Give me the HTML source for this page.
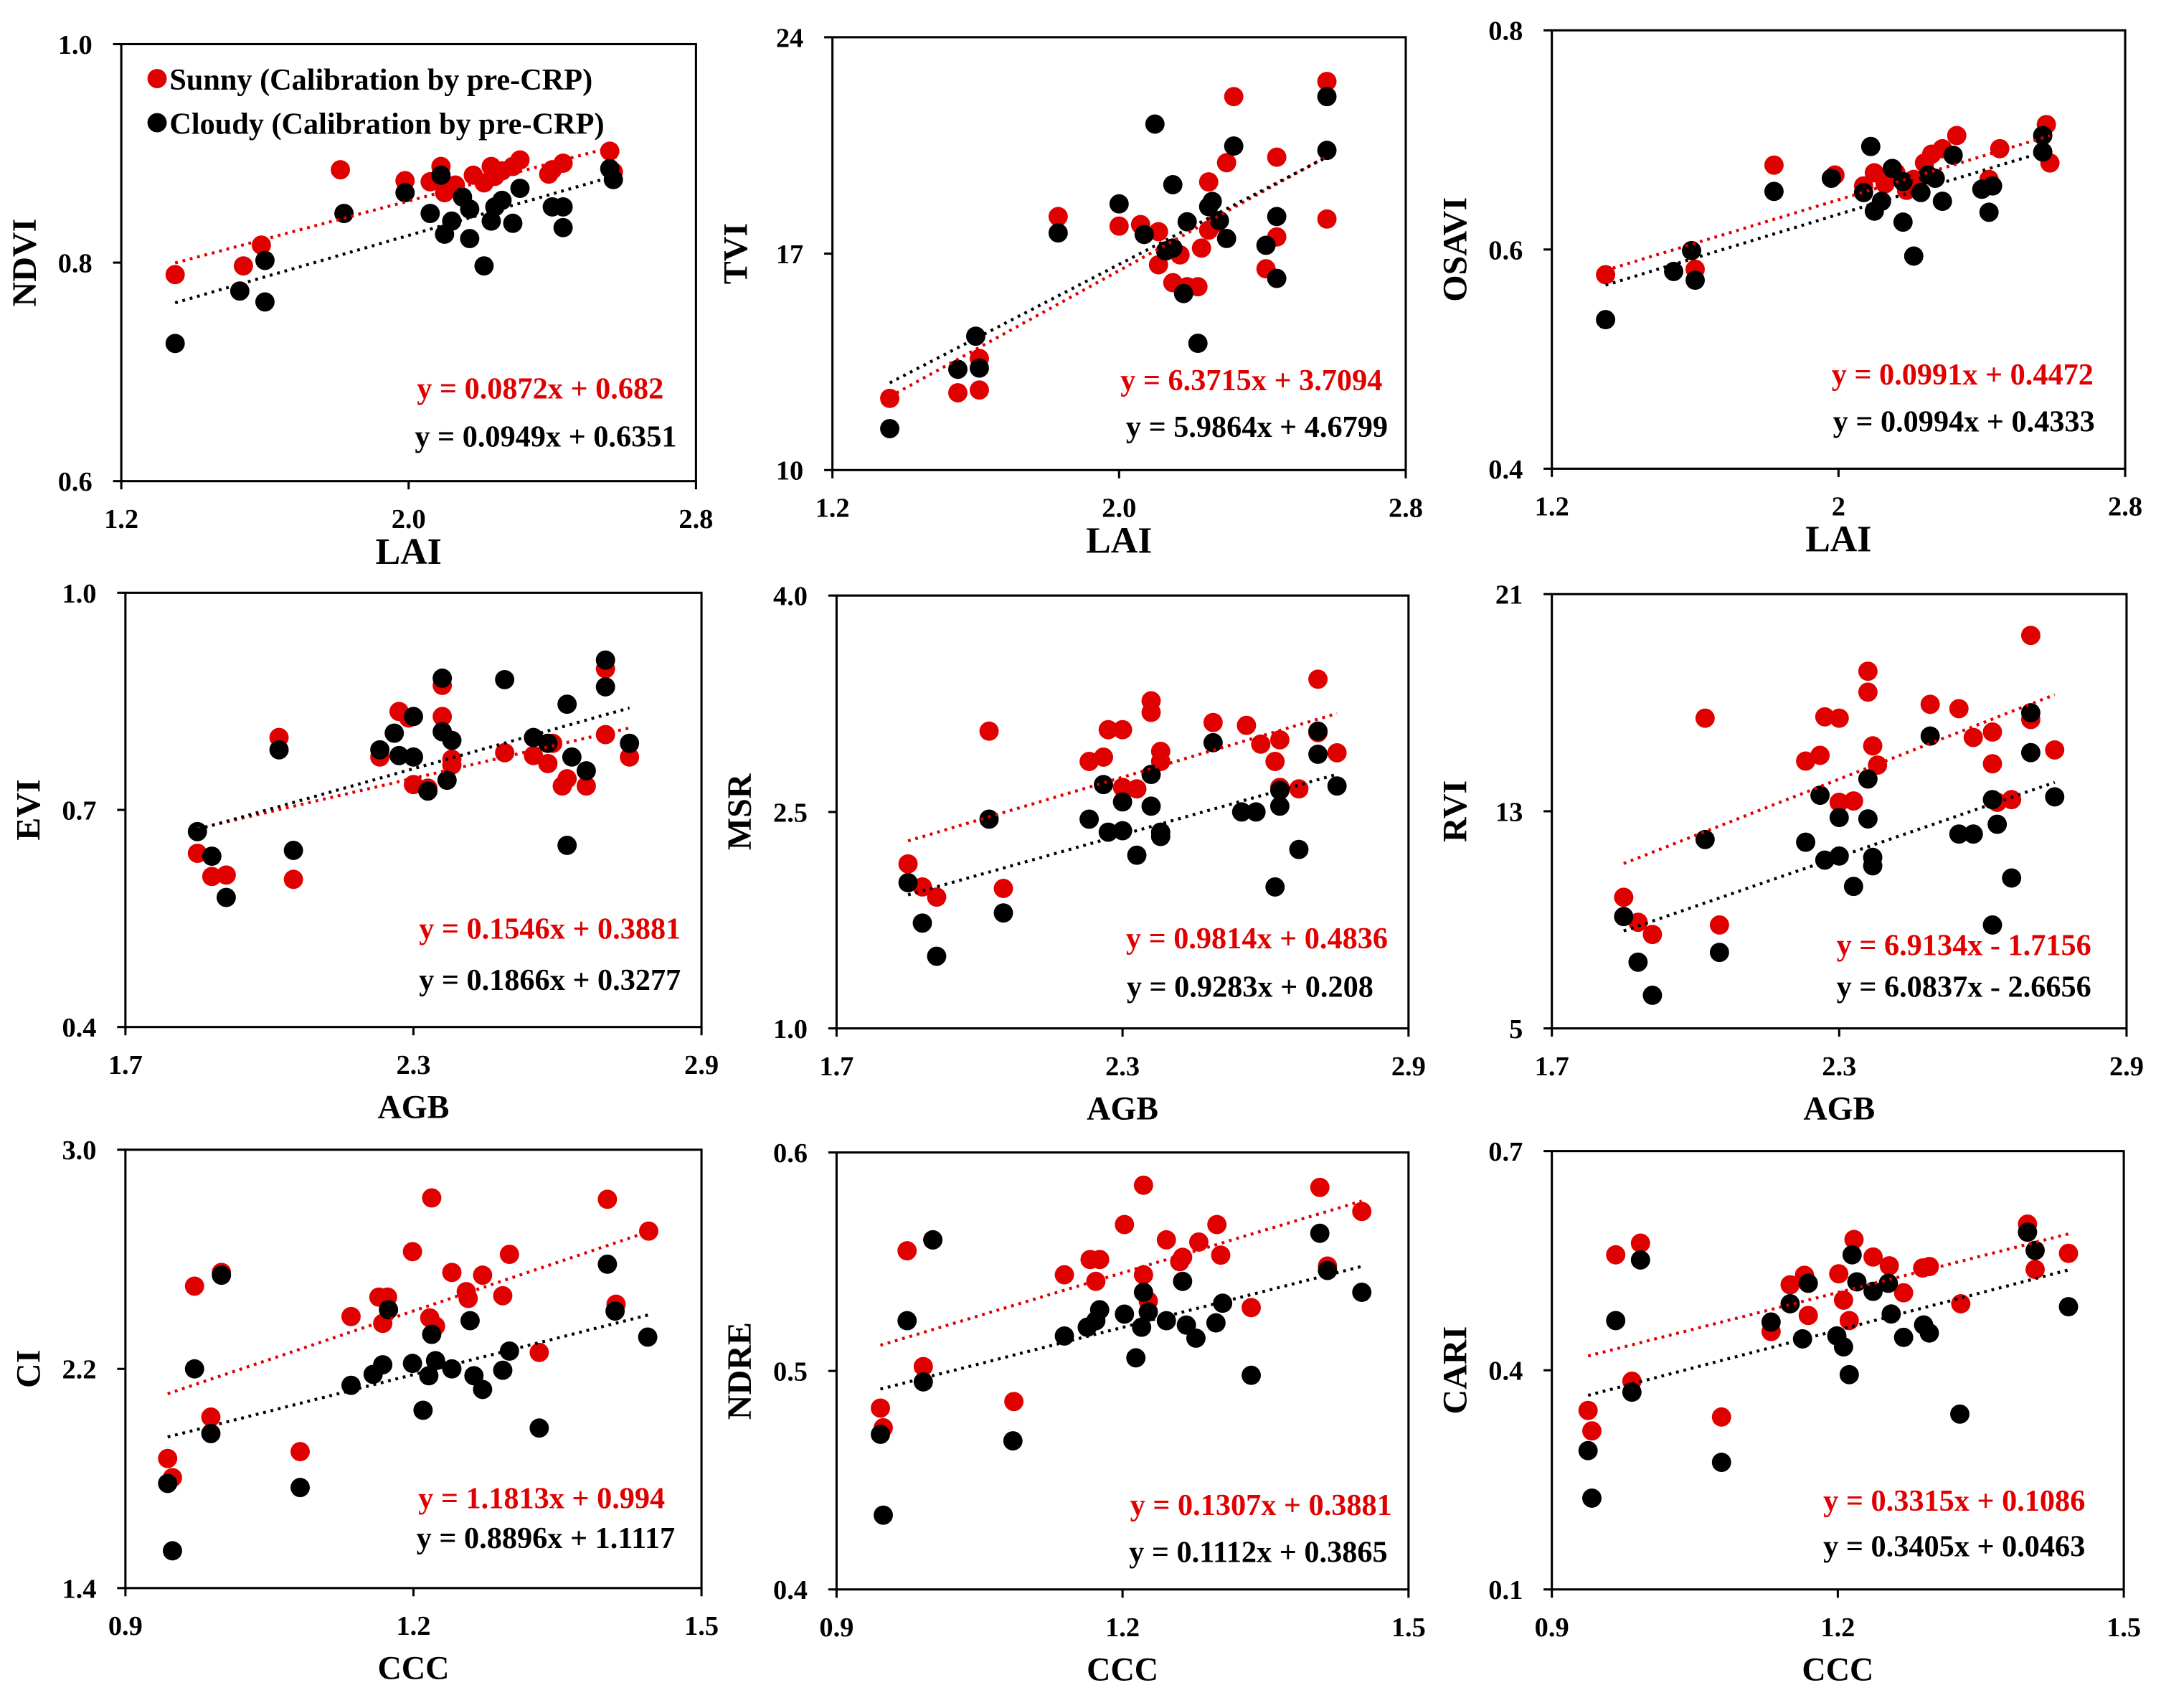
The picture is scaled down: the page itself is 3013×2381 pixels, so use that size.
<!DOCTYPE html>
<html><head><meta charset="utf-8"><style>
html,body{margin:0;padding:0;background:#fff;}
svg{display:block;}
text{font-family:"Liberation Serif",serif;font-weight:bold;}
</style></head><body>
<svg id="fig" width="3013" height="2381" viewBox="0 0 1568 1239" preserveAspectRatio="none" xmlns="http://www.w3.org/2000/svg"></svg>
<script>
// ---------- Data (top-level arrays) ----------
const p1RedX=[1.35,1.54,1.59,1.81,1.99,2.06,2.09,2.10,2.13,2.18,2.21,2.23,2.24,2.26,2.29,2.31,2.39,2.40,2.43,2.56,2.57];
const p1RedY=[0.789,0.797,0.816,0.885,0.875,0.874,0.888,0.864,0.871,0.880,0.873,0.888,0.879,0.884,0.888,0.894,0.881,0.885,0.891,0.902,0.883];
const p1BlkX=[1.35,1.53,1.60,1.60,1.82,1.99,2.06,2.09,2.10,2.12,2.15,2.17,2.17,2.21,2.23,2.24,2.26,2.29,2.31,2.40,2.43,2.43,2.56,2.57];
const p1BlkY=[0.726,0.774,0.802,0.764,0.845,0.864,0.845,0.880,0.826,0.838,0.860,0.822,0.849,0.797,0.838,0.851,0.857,0.836,0.868,0.851,0.851,0.832,0.886,0.876];

const p2RedX=[1.36,1.55,1.61,1.61,1.83,2.00,2.06,2.11,2.11,2.13,2.15,2.17,2.19,2.22,2.23,2.25,2.25,2.27,2.30,2.32,2.41,2.44,2.44,2.58,2.58];
const p2RedY=[12.32,12.50,12.59,13.61,18.20,17.89,17.94,17.71,16.64,17.09,16.06,16.96,15.93,15.93,17.18,17.76,19.32,17.98,19.94,22.08,16.51,17.54,20.12,22.57,18.12];
const p2BlkX=[1.36,1.55,1.60,1.61,1.83,2.00,2.07,2.10,2.13,2.15,2.15,2.18,2.19,2.22,2.25,2.26,2.28,2.30,2.32,2.41,2.44,2.44,2.58,2.58];
const p2BlkY=[11.34,13.26,14.33,13.30,17.67,18.61,17.62,21.19,17.09,17.18,19.23,15.71,18.03,14.10,18.52,18.69,18.07,17.49,20.48,17.27,18.20,16.20,22.08,20.34];

const p3RedX=[1.35,1.60,1.82,1.99,2.07,2.10,2.13,2.16,2.19,2.21,2.24,2.26,2.29,2.33,2.42,2.45,2.58,2.59];
const p3RedY=[0.577,0.582,0.677,0.668,0.658,0.670,0.660,0.670,0.654,0.664,0.679,0.687,0.692,0.704,0.664,0.692,0.714,0.679];
const p3BlkX=[1.35,1.54,1.59,1.60,1.82,1.98,2.07,2.09,2.10,2.12,2.15,2.18,2.18,2.21,2.23,2.25,2.27,2.29,2.32,2.40,2.42,2.43,2.57,2.57];
const p3BlkY=[0.536,0.580,0.599,0.572,0.653,0.665,0.652,0.694,0.635,0.644,0.674,0.625,0.662,0.594,0.652,0.668,0.665,0.644,0.686,0.655,0.634,0.658,0.704,0.689];

const p4RedX=[1.85,1.88,1.91,2.02,2.05,2.23,2.27,2.29,2.30,2.33,2.36,2.36,2.38,2.38,2.49,2.55,2.58,2.59,2.61,2.62,2.66,2.70,2.70,2.75];
const p4RedY=[0.640,0.608,0.610,0.800,0.604,0.773,0.836,0.827,0.735,0.730,0.872,0.829,0.762,0.770,0.779,0.775,0.764,0.792,0.733,0.743,0.733,0.895,0.804,0.773];
const p4BlkX=[1.85,1.88,1.91,2.02,2.05,2.23,2.26,2.27,2.30,2.30,2.33,2.36,2.36,2.37,2.38,2.49,2.55,2.58,2.62,2.62,2.63,2.66,2.70,2.70,2.75];
const p4BlkY=[0.670,0.636,0.579,0.783,0.644,0.783,0.806,0.775,0.829,0.773,0.726,0.882,0.808,0.741,0.796,0.880,0.800,0.792,0.846,0.651,0.773,0.754,0.907,0.870,0.792];

const p5RedX=[1.85,1.88,1.91,2.02,2.05,2.23,2.26,2.27,2.30,2.30,2.33,2.36,2.36,2.38,2.38,2.49,2.56,2.59,2.62,2.63,2.63,2.67,2.71,2.71,2.75];
const p5RedY=[2.14,1.98,1.91,3.06,1.97,2.85,2.88,3.07,3.07,2.67,2.66,3.27,3.19,2.92,2.85,3.12,3.10,2.97,2.85,2.67,3.00,2.66,3.42,3.05,2.91];
const p5BlkX=[1.85,1.88,1.91,2.02,2.05,2.23,2.26,2.27,2.30,2.30,2.33,2.36,2.36,2.38,2.38,2.49,2.55,2.58,2.62,2.63,2.63,2.67,2.71,2.71,2.75];
const p5BlkY=[2.01,1.73,1.50,2.45,1.80,2.45,2.69,2.36,2.57,2.37,2.20,2.76,2.54,2.33,2.36,2.98,2.50,2.50,1.98,2.65,2.54,2.24,2.90,3.06,2.68];

const p6RedX=[1.85,1.88,1.91,2.02,2.05,2.23,2.26,2.27,2.30,2.30,2.33,2.36,2.36,2.37,2.38,2.49,2.55,2.58,2.62,2.62,2.63,2.66,2.70,2.70,2.75];
const p6RedY=[9.83,8.91,8.46,16.43,8.81,14.85,15.06,16.48,16.43,13.33,13.38,18.16,17.39,15.41,14.70,16.94,16.78,15.72,14.75,15.92,13.33,13.43,19.48,16.38,15.26];
const p6BlkX=[1.85,1.88,1.91,2.02,2.05,2.23,2.26,2.27,2.30,2.30,2.33,2.36,2.36,2.37,2.37,2.49,2.55,2.58,2.62,2.62,2.63,2.66,2.70,2.70,2.75];
const p6BlkY=[9.12,7.44,6.22,11.96,7.80,11.86,13.59,11.20,12.77,11.35,10.23,14.19,12.72,10.99,11.30,15.77,12.16,12.16,8.81,13.43,12.52,10.54,16.63,15.16,13.53];

const p7RedX=[0.944,0.949,0.972,0.989,1.000,1.082,1.135,1.164,1.168,1.173,1.199,1.217,1.219,1.223,1.240,1.255,1.257,1.272,1.293,1.300,1.331,1.402,1.411,1.445];
const p7RedY=[1.873,1.803,2.502,2.024,2.552,1.898,2.391,2.462,2.366,2.462,2.628,2.386,2.824,2.356,2.552,2.482,2.457,2.542,2.467,2.618,2.260,2.819,2.436,2.703];
const p7BlkX=[0.944,0.949,0.972,0.989,1.000,1.082,1.135,1.158,1.168,1.174,1.199,1.210,1.216,1.219,1.223,1.240,1.259,1.263,1.272,1.293,1.300,1.331,1.402,1.410,1.444];
const p7BlkY=[1.782,1.536,2.200,1.964,2.542,1.767,2.140,2.180,2.215,2.416,2.220,2.049,2.175,2.326,2.230,2.200,2.376,2.175,2.125,2.195,2.265,1.984,2.582,2.411,2.316];

const p8RedX=[0.946,0.949,0.974,0.991,1.001,1.086,1.139,1.166,1.172,1.176,1.202,1.222,1.222,1.227,1.246,1.260,1.263,1.280,1.299,1.303,1.335,1.407,1.415,1.451];
const p8RedY=[0.483,0.474,0.555,0.502,0.560,0.486,0.544,0.551,0.541,0.551,0.567,0.544,0.585,0.532,0.560,0.550,0.552,0.559,0.567,0.553,0.529,0.584,0.548,0.573];
const p8BlkX=[0.946,0.949,0.974,0.991,1.001,1.085,1.139,1.163,1.172,1.176,1.202,1.214,1.220,1.222,1.227,1.246,1.263,1.267,1.277,1.298,1.305,1.335,1.407,1.415,1.451];
const p8BlkY=[0.471,0.434,0.523,0.495,0.560,0.468,0.516,0.520,0.523,0.528,0.526,0.506,0.520,0.536,0.527,0.523,0.541,0.521,0.515,0.522,0.531,0.498,0.563,0.546,0.536];

const p9RedX=[0.938,0.942,0.967,0.984,0.993,1.078,1.130,1.150,1.165,1.169,1.201,1.206,1.212,1.217,1.237,1.254,1.269,1.289,1.296,1.329,1.399,1.407,1.442];
const p9RedY=[0.345,0.317,0.558,0.385,0.574,0.336,0.453,0.517,0.530,0.475,0.532,0.496,0.468,0.579,0.555,0.543,0.506,0.540,0.542,0.491,0.600,0.538,0.560];
const p9BlkX=[0.938,0.942,0.967,0.984,0.993,1.078,1.130,1.150,1.163,1.169,1.199,1.206,1.212,1.215,1.220,1.237,1.253,1.256,1.269,1.290,1.296,1.328,1.399,1.407,1.442];
const p9BlkY=[0.290,0.225,0.468,0.370,0.551,0.274,0.466,0.491,0.443,0.519,0.447,0.432,0.394,0.558,0.521,0.508,0.519,0.477,0.445,0.462,0.451,0.340,0.589,0.564,0.487];

// regression coefficients [slope, intercept]
const fitRed=[[0.0872,0.682],[6.3715,3.7094],[0.0991,0.4472],[0.1546,0.3881],[0.9814,0.4836],[6.9134,-1.7156],[1.1813,0.994],[0.1307,0.3881],[0.3315,0.1086]];
const fitBlk=[[0.0949,0.6351],[5.9864,4.6799],[0.0994,0.4333],[0.1866,0.3277],[0.9283,0.208],[6.0837,-2.6656],[0.8896,1.1117],[0.1112,0.3865],[0.3405,0.0463]];
const eqRed=["y = 0.0872x + 0.682","y = 6.3715x + 3.7094","y = 0.0991x + 0.4472","y = 0.1546x + 0.3881","y = 0.9814x + 0.4836","y = 6.9134x - 1.7156","y = 1.1813x + 0.994","y = 0.1307x + 0.3881","y = 0.3315x + 0.1086"];
const eqBlk=["y = 0.0949x + 0.6351","y = 5.9864x + 4.6799","y = 0.0994x + 0.4333","y = 0.1866x + 0.3277","y = 0.9283x + 0.208","y = 6.0837x - 2.6656","y = 0.8896x + 1.1117","y = 0.1112x + 0.3865","y = 0.3405x + 0.0463"];
const yTitles=["NDVI","TVI","OSAVI","EVI","MSR","RVI","CI","NDRE","CARI"];
const xTitles=["LAI","LAI","LAI","AGB","AGB","AGB","CCC","CCC","CCC"];
const yTickLabels=[["0.6","0.8","1.0"],["10","17","24"],["0.4","0.6","0.8"],["0.4","0.7","1.0"],["1.0","2.5","4.0"],["5","13","21"],["1.4","2.2","3.0"],["0.4","0.5","0.6"],["0.1","0.4","0.7"]];
const xTickLabels=[["1.2","2.0","2.8"],["1.2","2.0","2.8"],["1.2","2","2.8"],["1.7","2.3","2.9"],["1.7","2.3","2.9"],["1.7","2.3","2.9"],["0.9","1.2","1.5"],["0.9","1.2","1.5"],["0.9","1.2","1.5"]];

// ---------- Layout (pixel geometry, not data) ----------
const boxes=[[88,505,32,349],[604,1020,27,341],[1126,1542,22,340],[91,509,430,745],[607,1022,432,746],[1126,1543,431,746],[91,509,834,1152],[607,1022,836,1153],[1126,1541,835,1153]];
const eqPos=[[392,281,396,316],[908,275,912,309],[1424,271,1425,305],[399,673,399,710],[912,680,907,715],[1425,685,1425,715],[393,1086,396,1115],[915,1091,913,1125],[1418,1088,1418,1121]];
const series=[[p1RedX,p1RedY,p1BlkX,p1BlkY],[p2RedX,p2RedY,p2BlkX,p2BlkY],[p3RedX,p3RedY,p3BlkX,p3BlkY],[p4RedX,p4RedY,p4BlkX,p4BlkY],[p5RedX,p5RedY,p5BlkX,p5BlkY],[p6RedX,p6RedY,p6BlkX,p6BlkY],[p7RedX,p7RedY,p7BlkX,p7BlkY],[p8RedX,p8RedY,p8BlkX,p8BlkY],[p9RedX,p9RedY,p9BlkX,p9BlkY]];

const NS="http://www.w3.org/2000/svg";
const svg=document.getElementById('fig');
function mk(tag,attrs,parent){const e=document.createElementNS(NS,tag);for(const k in attrs)e.setAttribute(k,attrs[k]);(parent||svg).appendChild(e);return e;}

for(let i=0;i<9;i++){
  const [x0,x1,y0,y1]=boxes[i];
  const xl=xTickLabels[i].map(Number), yl=yTickLabels[i].map(Number);
  const xmin=xl[0],xmax=xl[2],ymin=yl[0],ymax=yl[2];
  const sx=v=>x0+(v-xmin)/(xmax-xmin)*(x1-x0);
  const sy=v=>y1-(v-ymin)/(ymax-ymin)*(y1-y0);
  const g=mk('g',{});
  
  
  const frame=mk('rect',{x:x0,y:y0,width:x1-x0,height:y1-y0,fill:'none',stroke:'#000','stroke-width':1.6},g);
  
  
  yTickLabels[i].forEach((lab,k)=>{
    const yy=sy(yl[k]);
    mk('line',{x1:x0-6,x2:x0,y1:yy,y2:yy,stroke:'#000','stroke-width':1.6},g);
    const t=mk('text',{x:x0-21,y:yy+7,'text-anchor':'end','font-size':20},g);
    t.textContent=lab;
    
    
  });
  xTickLabels[i].forEach((lab,k)=>{
    const xx=sx(xl[k]);
    mk('line',{x1:xx,x2:xx,y1:y1,y2:y1+6,stroke:'#000','stroke-width':1.6},g);
    const t=mk('text',{x:xx,y:y1+34,'text-anchor':'middle','font-size':20},g);
    t.textContent=lab;
    
    
  });
  const big=i<3;
  const xt=mk('text',{x:(x0+x1)/2,y:y1+(big?60:66),'text-anchor':'middle','font-size':big?27:24},g);
  xt.textContent=xTitles[i];
  
  
  const cy=(y0+y1)/2;
  const yt=mk('text',{x:x0-62,y:cy,'text-anchor':'middle','font-size':25,transform:`rotate(-90 ${x0-62} ${cy})`},g);
  yt.textContent=yTitles[i];
  
  
  const [rx,ry,bx,by]=series[i];
  rx.forEach((v,k)=>{
    const c=mk('circle',{cx:sx(v),cy:sy(ry[k]),r:7,fill:'#e00000'},g);
    
    
  });
  bx.forEach((v,k)=>{
    const c=mk('circle',{cx:sx(v),cy:sy(by[k]),r:7,fill:'#000'},g);
    
    
  });
  const lo=Math.min(...rx,...bx), hi=Math.max(...rx,...bx);
  [[fitRed[i],'#e00000','sunny-trendline'],[fitBlk[i],'#000','cloudy-trendline']].forEach(([f,col,nm])=>{
    const l=mk('line',{x1:sx(lo),y1:sy(f[0]*lo+f[1]),x2:sx(hi),y2:sy(f[0]*hi+f[1]),stroke:col,'stroke-width':2.2,'stroke-dasharray':'2 3.5'},g);
    
    
  });
  const [ex1,ey1,ex2,ey2]=eqPos[i];
  const e1=mk('text',{x:ex1,y:ey1+8,'text-anchor':'middle','font-size':22,fill:'#e00000'},g);
  e1.textContent=eqRed[i];
  
  
  const e2=mk('text',{x:ex2,y:ey2+8,'text-anchor':'middle','font-size':22,fill:'#000'},g);
  e2.textContent=eqBlk[i];
  
  
}
const lg=mk('g',{});


const ld1=mk('circle',{cx:114,cy:57,r:7,fill:'#e00000'},lg);


const lt1=mk('text',{x:123,y:65,'font-size':22},lg);
lt1.textContent='Sunny (Calibration by pre-CRP)';


const ld2=mk('circle',{cx:114,cy:89,r:7,fill:'#000'},lg);


const lt2=mk('text',{x:123,y:97,'font-size':22},lg);
lt2.textContent='Cloudy (Calibration by pre-CRP)';


</script>
</body></html>
